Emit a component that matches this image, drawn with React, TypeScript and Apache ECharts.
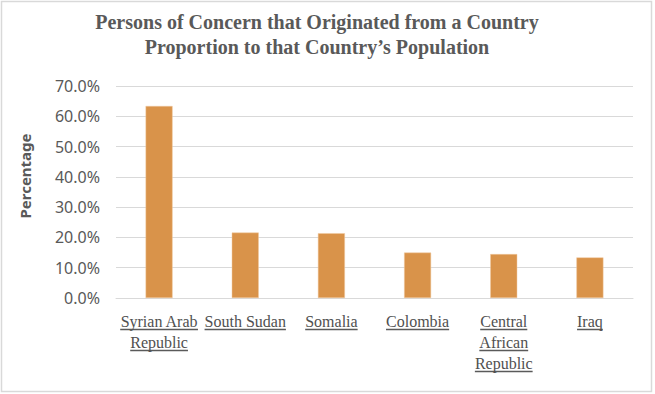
import React, { useEffect, useRef } from "react";
import * as echarts from "echarts";

const titleLines = ["Persons of Concern that Originated from a Country", "Proportion to that Country\u2019s Population"];
const yAxisTitle = "Percentage";
const categories = ["Syrian Arab\nRepublic", "South Sudan", "Somalia", "Colombia", "Central\nAfrican\nRepublic", "Iraq"];
const values = [63.4, 21.6, 21.4, 15.0, 14.5, 13.4];
const yMin = 0;
const yMax = 70;
const yStep = 10;

const LABEL_FONT = "'Liberation Serif', 'Times New Roman', serif";
const LABEL_SIZE = 16;
const LABEL_LH = 21;
const LABEL_MARGIN = 13;
const TEXT_COLOR = "#595959";

export default function App() {
  const ref = useRef<HTMLDivElement>(null);
  useEffect(() => {
    if (!ref.current) return;
    const chart = echarts.init(ref.current, null, { renderer: "svg" });
    const baseGraphic: any[] = [
      {
        type: "rect",
        shape: { x: 1.5, y: 1.5, width: 650, height: 390 },
        style: { fill: "none", stroke: "#d9d9d9", lineWidth: 1.5 },
        silent: true,
      },
      {
        type: "text",
        x: 317,
        y: 9,
        style: {
          text: titleLines.join("\n"),
          font: `bold 20px ${LABEL_FONT}`,
          fill: TEXT_COLOR,
          textAlign: "center",
          textVerticalAlign: "top",
          lineHeight: 25,
        },
      },
      {
        type: "text",
        x: 25,
        y: 176,
        rotation: Math.PI / 2,
        style: {
          text: yAxisTitle,
          font: "bold 15px 'Noto Sans', sans-serif",
          fill: TEXT_COLOR,
          textAlign: "center",
          textVerticalAlign: "middle",
        },
      },
    ];
    chart.setOption({
      animation: false,
      backgroundColor: "#ffffff",
      grid: { left: 116, right: 22, top: 86, bottom: 96, containLabel: false },
      xAxis: {
        type: "category",
        data: categories,
        axisLine: { lineStyle: { color: "#d9d9d9", width: 1 } },
        axisTick: { show: false },
        axisLabel: {
          interval: 0,
          margin: LABEL_MARGIN,
          color: "#505050",
          fontFamily: LABEL_FONT,
          fontSize: LABEL_SIZE,
          lineHeight: LABEL_LH,
        },
      },
      yAxis: {
        type: "value",
        min: yMin,
        max: yMax,
        interval: yStep,
        axisLine: { show: false },
        axisTick: { show: false },
        splitLine: { lineStyle: { color: "#d9d9d9", width: 1 } },
        axisLabel: {
          margin: 16,
          color: TEXT_COLOR,
          fontFamily: "'Noto Sans', sans-serif",
          fontSize: 16,
          formatter: (v: number) => v.toFixed(1) + "%",
        },
      },
      series: [
        {
          type: "bar",
          data: values,
          barWidth: 27,
          itemStyle: { color: "#D9934A", borderColor: "#f0c9a0", borderWidth: 0.5 },
        },
      ],
      graphic: baseGraphic,
    });

    // underlines beneath category labels
    const canvas = document.createElement("canvas");
    const ctx = canvas.getContext("2d");
    const underlines: any[] = [];
    if (ctx) {
      ctx.font = `${LABEL_SIZE}px ${LABEL_FONT}`;
      categories.forEach((cat, i) => {
        const p = chart.convertToPixel({ gridIndex: 0 }, [i, 0]) as number[];
        const cx = p[0];
        const top = p[1] + LABEL_MARGIN;
        cat.split("\n").forEach((line, k) => {
          const w = ctx.measureText(line).width;
          const y = top + LABEL_LH * k + 18.5;
          underlines.push({
            type: "line",
            shape: { x1: cx - w / 2, y1: y, x2: cx + w / 2, y2: y },
            style: { stroke: "#5a5a5a", lineWidth: 1.5 },
            silent: true,
          });
        });
      });
    }
    chart.setOption({ graphic: [...baseGraphic, ...underlines] });

    return () => chart.dispose();
  }, []);
  return (
    <div
      ref={ref}
      style={{ position: "absolute", left: 0, top: 0, width: 655, height: 394 }}
    />
  );
}
